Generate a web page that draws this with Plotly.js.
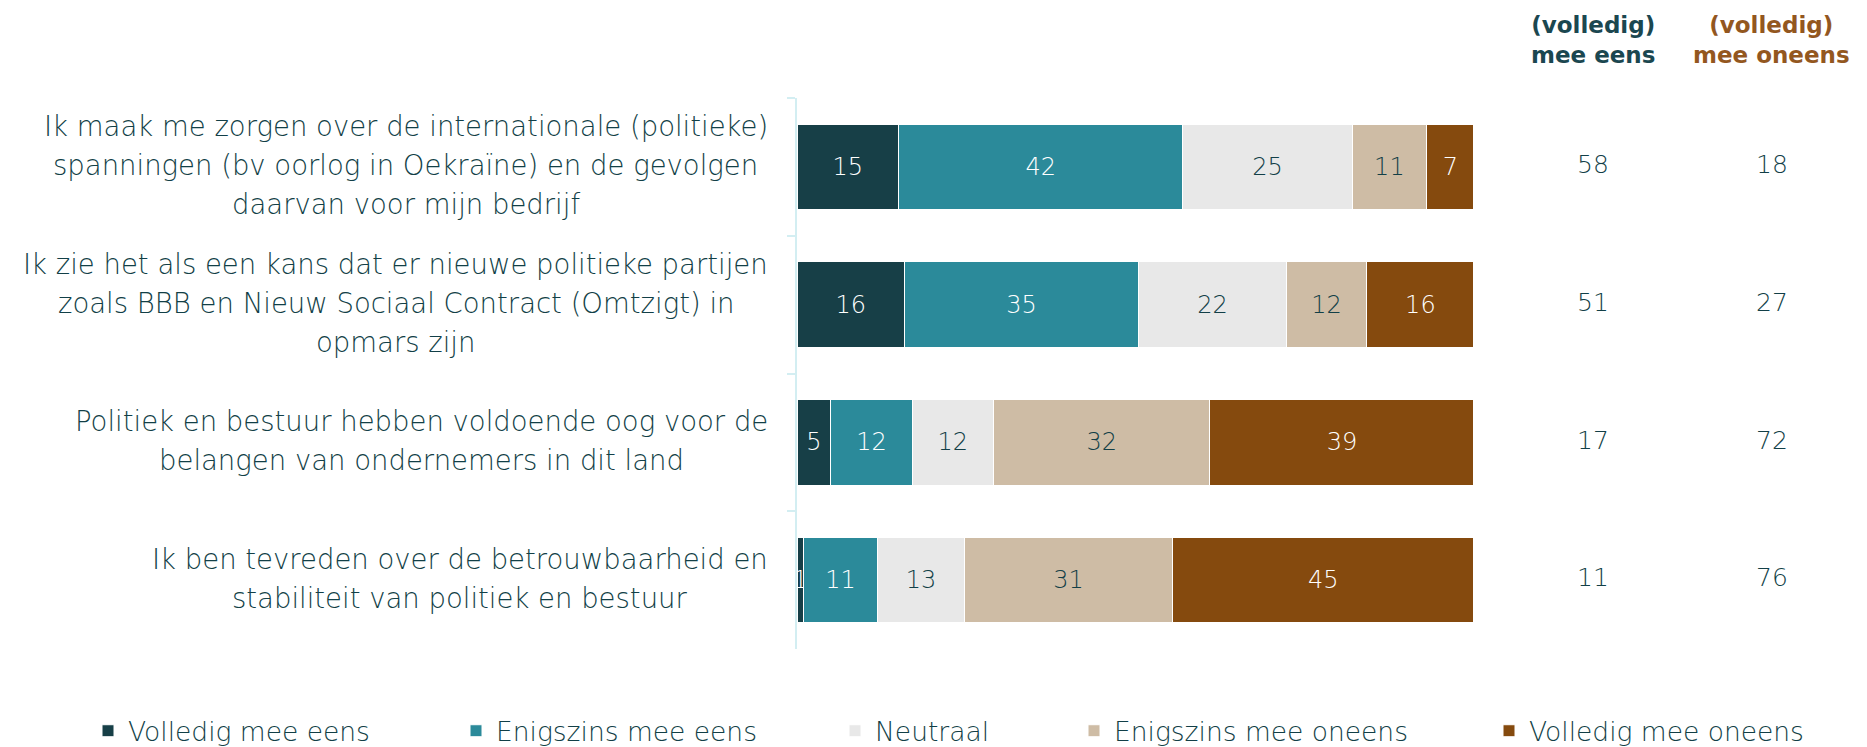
<!DOCTYPE html>
<html><head><meta charset="utf-8">
<script src="https://cdn.plot.ly/plotly-3.0.1.min.js"></script>
<style>body{margin:0;background:#fff}</style></head>
<body><div id="chart" style="width:1867px;height:747px"></div>
<script>
const statements = [
  "Ik maak me zorgen over de internationale (politieke)<br>spanningen (bv oorlog in Oekraïne) en de gevolgen<br>daarvan voor mijn bedrijf",
  "Ik zie het als een kans dat er nieuwe politieke partijen<br>zoals BBB en Nieuw Sociaal Contract (Omtzigt) in<br>opmars zijn",
  "Politiek en bestuur hebben voldoende oog voor de<br>belangen van ondernemers in dit land",
  "Ik ben tevreden over de betrouwbaarheid en<br>stabiliteit van politiek en bestuur"
];
const seriesNames = ["Volledig mee eens", "Enigszins mee eens", "Neutraal", "Enigszins mee oneens", "Volledig mee oneens"];
const volledigEens    = [15, 16, 5, 1];
const enigszinsEens   = [42, 35, 12, 11];
const neutraal        = [25, 22, 12, 13];
const enigszinsOneens = [11, 12, 32, 31];
const volledigOneens  = [7, 16, 39, 45];
const totaalEens   = [58, 51, 17, 11];
const totaalOneens = [18, 27, 72, 76];
const columnKeys = ["eens", "oneens"];
const columnHeaders = ["(volledig)<br>mee eens", "(volledig)<br>mee oneens"];

const seriesValues = [volledigEens, enigszinsEens, neutraal, enigszinsOneens, volledigOneens];
const seriesColors = ["#173f47", "#2b8a9a", "#e8e8e8", "#cebca5", "#854a0e"];
const DARK = "#123f47";
const labelColors = ["#ffffff", "#ffffff", DARK, DARK, "#ffffff"];
const headerColors = ["#1b4750", "#93571f"];
const FONT = "'DejaVu Sans', sans-serif";
const W = 200;
const legendX = [88, 456, 835, 1074, 1489];

const traces = seriesValues.map((vals, i) => ({
  type: "bar", orientation: "h",
  name: seriesNames[i],
  x: vals, y: statements,
  text: vals, texttemplate: "%{text}",
  textposition: "inside", insidetextanchor: "middle", textangle: 0,
  constraintext: "none",
  textfont: {family: FONT, size: 24, weight: W, color: labelColors[i]},
  marker: {color: seriesColors[i], line: {color: "#ffffff", width: 1}},
  legend: i === 0 ? "legend" : "legend" + (i + 1),
  hoverinfo: "skip",
  xaxis: "x", yaxis: "y"
}));

[totaalEens, totaalOneens].forEach((vals, j) => {
  traces.push({
    type: "scatter", mode: "text",
    x: vals.map(() => columnKeys[j]), y: statements,
    text: vals, textposition: "middle center",
    textfont: {family: FONT, size: 25, weight: W, color: DARK},
    showlegend: false, hoverinfo: "skip",
    xaxis: "x2", yaxis: "y"
  });
});

// statement labels: one annotation per line, lines centred within a right-aligned block
const LABEL_SIZE = 27.5, LINE_GAP = 39;
const ctx = document.createElement("canvas").getContext("2d");
ctx.font = W + " " + LABEL_SIZE + "px 'DejaVu Sans'";
const annotations = [];
statements.forEach(s => {
  const lines = s.split("<br>");
  const blockW = Math.max(...lines.map(l => ctx.measureText(l).width));
  lines.forEach((line, k) => {
    annotations.push({
      xref: "x", x: 0, xanchor: "center", xshift: -29 - blockW / 2,
      yref: "y", y: s, yanchor: "middle", yshift: ((lines.length - 1) / 2 - k) * LINE_GAP + 2,
      text: line, showarrow: false,
      font: {family: FONT, size: LABEL_SIZE, weight: W, color: DARK}
    });
  });
});
columnHeaders.forEach((h, j) => annotations.push({
  xref: "x2", x: j, xanchor: "center",
  yref: "paper", y: 1.1045, yanchor: "middle",
  text: h, align: "center", showarrow: false,
  font: {family: FONT, size: 23, weight: 700, color: headerColors[j]}
}));

const layout = {
  width: 1867, height: 747,
  margin: {l: 0, r: 0, t: 98, b: 98},
  paper_bgcolor: "#ffffff", plot_bgcolor: "#ffffff",
  barmode: "stack", barnorm: "percent", bargap: 0.38,
  uniformtext: {mode: "show", minsize: 24},
  font: {family: FONT, color: DARK},
  xaxis: {domain: [0.4269, 0.7895], range: [0, 100], visible: false, fixedrange: true},
  xaxis2: {domain: [0.8, 1], type: "category", categoryorder: "array", categoryarray: columnKeys,
           range: [-0.555, 1.531], visible: false, anchor: "y", fixedrange: true},
  yaxis: {type: "category", categoryorder: "array", categoryarray: statements, autorange: "reversed",
          showline: true, linecolor: "#d3eef2", linewidth: 2,
          ticks: "outside", tickson: "boundaries", ticklen: 8, tickwidth: 2, tickcolor: "#d3eef2",
          showticklabels: false, showgrid: false, zeroline: false, fixedrange: true},
  annotations: annotations,
  showlegend: true
};
seriesNames.forEach((n, i) => {
  layout[i === 0 ? "legend" : "legend" + (i + 1)] = {
    orientation: "h", xref: "container", yref: "container",
    x: legendX[i] / 1867, xanchor: "left", y: 1 - 731 / 747, yanchor: "middle",
    bgcolor: "rgba(0,0,0,0)", borderwidth: 0,
    font: {family: FONT, size: 26.5, weight: W, color: DARK}
  };
});

Plotly.newPlot("chart", traces, layout, {staticPlot: true, displayModeBar: false});
</script>
</body></html>
